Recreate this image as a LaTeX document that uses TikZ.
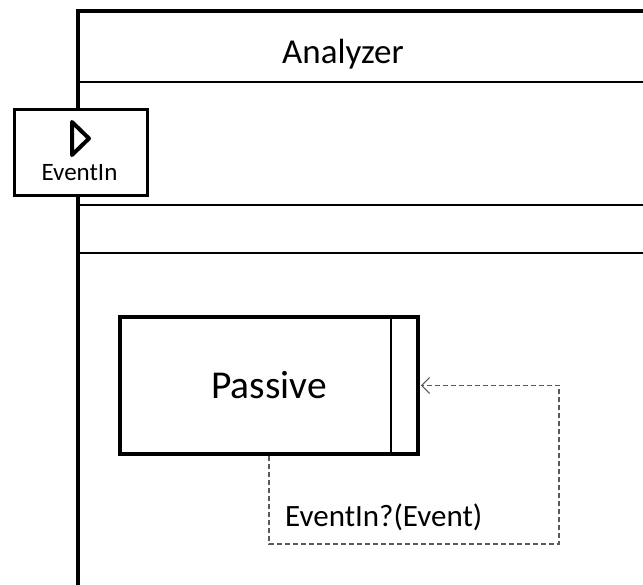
\documentclass[tikz,border=0pt]{standalone}
\usepackage{fontspec}
\setmainfont{Carlito}
\usetikzlibrary{arrows.meta}
\begin{document}
\begin{tikzpicture}[x=1pt,y=-1pt,
  frameline/.style={line width=2.5pt},
  portbox/.style={draw,line width=3pt,fill=white,minimum width=133pt,minimum height=86pt,inner sep=0pt},
  statebox/.style={draw,line width=3.5pt,fill=white,minimum width=298pt,minimum height=137pt,inner sep=0pt},
  trans/.style={draw=black!65,dashed,dash pattern=on 5pt off 3pt,line width=1.2pt},
  lbl/.style={inner sep=0pt,font=\fontsize{31}{36}\selectfont}]
\useasboundingbox (0,0) rectangle (643,585);
\begin{scope}
\clip (0,0) rectangle (643,585);
% outer frame
\draw[line width=4pt] (78,590) -- (78,11) -- (650,11);
\draw[frameline] (78,82) -- (650,82);
\draw[frameline] (78,205) -- (650,205);
\draw[frameline] (78,253) -- (650,253);
\end{scope}
\node[inner sep=0pt,font=\fontsize{35}{40}\selectfont] (title) at (343,54) {Analyzer};
% port
\node[portbox] (port) at (80.5,153) {};
\draw[line width=4pt,line join=round] (72,122) -- (89,138.5) -- (72,155) -- cycle;
\node[inner sep=0pt,font=\fontsize{25}{30}\selectfont] (portlbl) at (79.5,173) {EventIn};
% state
\node[statebox] (passive) at (269,385.5) {};
\draw[line width=2.2pt] (391,317) -- (391,454);
\node[inner sep=0pt,font=\fontsize{39.5}{44}\selectfont] (ptext) at (269,385) {Passive};
% transition
\coordinate (corner) at (559,544);
\draw[trans,-{Straight Barb[length=8pt,width=16pt,line width=1.2pt]}] (passive.south) |- (corner) |- ([xshift=1pt]passive.east);
\node[lbl,anchor=west] (tlabel) at (285,517) {EventIn?(Event)};
\end{tikzpicture}
\end{document}
